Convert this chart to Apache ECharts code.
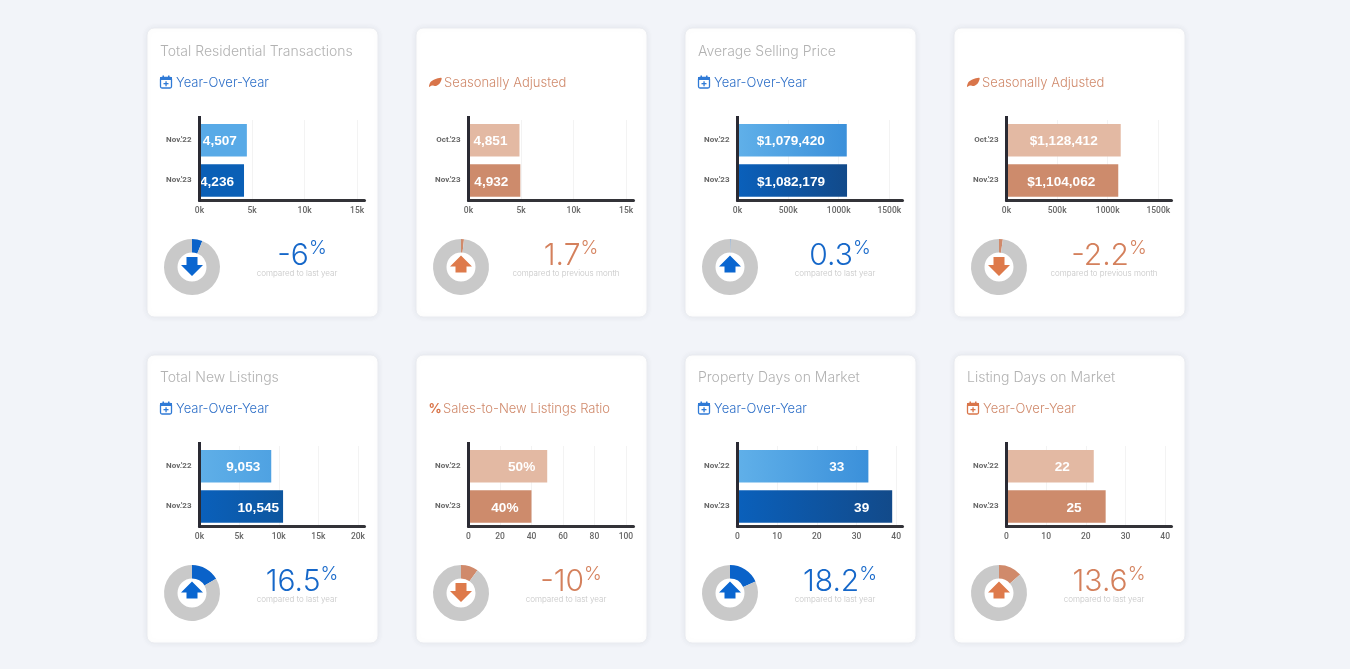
<!DOCTYPE html>
<html><head><meta charset="utf-8">
<style>html,body{margin:0;padding:0;background:#f2f4f9}#c{width:1350px;height:669px}</style>
<script src="https://cdn.jsdelivr.net/npm/echarts@6/dist/echarts.min.js"></script>
</head><body><div id="c"></div>
<script>
const titles=['Total Residential Transactions','','Average Selling Price','','Total New Listings','','Property Days on Market','Listing Days on Market'];
const subtitles=['Year-Over-Year','Seasonally Adjusted','Year-Over-Year','Seasonally Adjusted','Year-Over-Year','Sales-to-New Listings Ratio','Year-Over-Year','Year-Over-Year'];
const icons=['cal','leaf','cal','leaf','cal','pct','cal','cal'];
const tones=['blue','orange','blue','orange','blue','orange','blue','orange'];
const categories=[["Nov.'22","Nov.'23"],["Oct.'23","Nov.'23"],["Nov.'22","Nov.'23"],["Oct.'23","Nov.'23"],["Nov.'22","Nov.'23"],["Nov.'22","Nov.'23"],["Nov.'22","Nov.'23"],["Nov.'22","Nov.'23"]];
const earlier=[4507,4851,1079420,1128412,9053,50,33,22];
const later=[4236,4932,1082179,1104062,10545,40,39,25];
const axisMax=[15700,15700,1630000,1630000,20820,104.8,41.6,41.6];
const axisStep=[5000,5000,500000,500000,5000,20,10,10];
const axisUnit=['k','k','k','k','k','','',''];
const labelPrefix=['','','$','$','','','',''];
const labelSuffix=['','','','','','%','',''];
const insetEarlier=[10,12,22,23,11,12,24,24];
const insetLater=[10,12,22,23,4,13,23,24];
const changes=['-6','1.7','0.3','-2.2','16.5','-10','18.2','13.6'];
const shares=[6,1.7,0.3,2.2,16.5,10,18.2,13.6];
const arrows=['down','up','up','down','up','down','up','up'];
const notes=['compared to last year','compared to previous month','compared to last year','compared to previous month','compared to last year','compared to last year','compared to last year','compared to last year'];
const cardLefts=[147,416,685,954,147,416,685,954];

const UI='Inter, "Open Sans", sans-serif', LB='"Liberation Sans", Arial, sans-serif', TK='Roboto, sans-serif';
const palette={blue:{text:'#2f70c8',big:'#1567c9',icon:'#2f7ad6',slice:'#0a62c9',arrow:'#0a66d0'},
  orange:{text:'#d08a6c',big:'#d4805c',icon:'#d9754a',slice:'#d08a6b',arrow:'#de7a4b'}};
function fill(i,dark){
  if(tones[i]==='orange') return dark?'#cd8b6c':'#e3b9a3';
  if(i===2||i===6) return {type:'linear',x:0,y:0,x2:1,y2:0,colorStops:dark?[{offset:0,color:'#0a60bb'},{offset:1,color:'#124a8a'}]:[{offset:0,color:'#60b0e9'},{offset:1,color:'#3b90da'}]};
  if(i===4) return {type:'linear',x:0,y:0,x2:1,y2:0,colorStops:dark?[{offset:0,color:'#0a60bb'},{offset:1,color:'#0d569f'}]:[{offset:0,color:'#5fafe8'},{offset:1,color:'#4fa2e2'}]};
  return dark?'#0a5fb6':'#58aae7';
}
const grids=[],xAxes=[],yAxes=[],series=[],gfx=[];
cardLefts.forEach((L,i)=>{
  const T=i<4?28:354, c=palette[tones[i]];
  gfx.push({type:'rect',z:-10,shape:{x:L,y:i<4?T:T+1,width:231,height:i<4?289:288,r:7},style:{fill:'#fff',stroke:'#e9ebf0',lineWidth:1,shadowBlur:6,shadowColor:'rgba(40,50,80,0.07)'}});
  if(titles[i]) gfx.push({type:'text',z:5,x:L+13,y:T+24,style:{text:titles[i],font:'300 14px '+UI,fill:'#b2b2b2',verticalAlign:'middle'}});
  const subX=icons[i]==='pct'?27:(icons[i]==='leaf'?28:29);
  gfx.push({type:'text',z:5,x:L+subX,y:T+55.5,style:{text:subtitles[i],font:'300 13px '+UI,fill:c.text,verticalAlign:'middle'}});
  const ix=L+13, iy=T+48;
  if(icons[i]==='cal'){
    gfx.push({type:'rect',z:5,shape:{x:ix+.5,y:iy+1.5,width:11,height:10.5,r:1.5},style:{fill:'none',stroke:c.icon,lineWidth:1.3}});
    gfx.push({type:'rect',z:5,shape:{x:ix,y:iy+1,width:12,height:3},style:{fill:c.icon}});
    gfx.push({type:'rect',z:5,shape:{x:ix+2.5,y:iy-.5,width:1.5,height:2.5},style:{fill:c.icon}});
    gfx.push({type:'rect',z:5,shape:{x:ix+8,y:iy-.5,width:1.5,height:2.5},style:{fill:c.icon}});
    gfx.push({type:'rect',z:5,shape:{x:ix+3.5,y:iy+7,width:5,height:1.3},style:{fill:c.icon}});
    gfx.push({type:'rect',z:5,shape:{x:ix+5.4,y:iy+5.2,width:1.3,height:5},style:{fill:c.icon}});
  } else if(icons[i]==='leaf'){
    gfx.push({type:'polygon',z:5,shape:{smooth:0.3,points:[[ix,iy+11],[ix+1.5,iy+6],[ix+6,iy+3.2],[ix+12.5,iy+2],[ix+11,iy+7],[ix+7,iy+10],[ix+3,iy+9.5]]},style:{fill:c.icon}});
  } else {
    gfx.push({type:'text',z:5,x:ix-.5,y:iy+7.5,style:{text:'%',font:'bold 13px '+UI,fill:c.icon,verticalAlign:'middle'}});
  }
  gfx.push({type:'rect',z:5,shape:{x:L+51,y:T+88,width:3,height:5},style:{fill:'#2a2a33'}});

  grids.push({left:L+52.5,top:T+92,width:165,height:80.5,containLabel:false});
  xAxes.push({gridIndex:i,type:'value',min:0,max:axisMax[i],interval:axisStep[i],
    axisLine:{show:true,onZero:false,lineStyle:{color:'#333338',width:3}},axisTick:{show:false},
    splitLine:{show:true,showMaxLine:false,showMinLine:false,lineStyle:{color:'#f3f3f3',width:1}},
    axisLabel:{show:true,margin:6,showMaxLabel:false,showMinLabel:true,fontFamily:TK,fontWeight:500,fontSize:8.5,color:'#666',
      formatter:v=>axisUnit[i]?(v/1000)+axisUnit[i]:String(v)}});
  yAxes.push({gridIndex:i,type:'category',inverse:true,data:categories[i],z:5,
    axisLine:{show:true,onZero:false,lineStyle:{color:'#2a2a33',width:3}},axisTick:{show:false},splitLine:{show:false},
    axisLabel:{margin:8,fontFamily:TK,fontWeight:700,fontSize:8,color:'#666'}});
  const labelFor=(inset)=>({show:true,position:'insideRight',distance:inset,offset:[0,1.5],fontFamily:LB,fontWeight:700,fontSize:13.6,color:'#fff',
      formatter:p=>labelPrefix[i]+p.value.toLocaleString('en-US')+labelSuffix[i]});
  series.push({type:'bar',xAxisIndex:i,yAxisIndex:i,barWidth:32.5,z:1,
    data:[{value:earlier[i],itemStyle:{color:fill(i,false)},label:labelFor(insetEarlier[i])},
          {value:later[i],itemStyle:{color:fill(i,true)},label:labelFor(insetLater[i])}],
    silent:true,animation:false});
  const px=L+45, py=T+239;
  series.push({type:'pie',center:[px,py],radius:[14.5,28],startAngle:90,clockwise:true,silent:true,animation:false,
    label:{show:false},labelLine:{show:false},
    data:[{value:shares[i],itemStyle:{color:c.slice}},{value:100-shares[i],itemStyle:{color:'#c9c9c9'}}]});
  const pts=arrows[i]==='up'
    ?[[-5.5,5.5],[5.5,5.5],[5.5,-.5],[11,-.5],[0,-11.5],[-11,-.5],[-5.5,-.5]]
    :[[-5.5,-10],[5.5,-10],[5.5,-2],[11,-2],[0,9],[-11,-2],[-5.5,-2]];
  gfx.push({type:'polygon',z:20,shape:{points:pts.map(p=>[px+p[0],py+p[1]])},style:{fill:c.arrow}});
  gfx.push({type:'text',z:5,x:L+155,y:T+211,style:{text:'{a|'+changes[i]+'}{b|%}',align:'center',verticalAlign:'top',
    rich:{a:{font:'300 30px '+UI,fill:c.big,lineHeight:34},b:{font:'300 19px '+UI,fill:c.big,verticalAlign:'top',lineHeight:24}}}});
  gfx.push({type:'text',z:5,x:L+150,y:T+246,style:{text:notes[i],font:'300 8px '+UI,fill:'#c4c4c4',align:'center',verticalAlign:'middle'}});
});
const chart=echarts.init(document.getElementById('c'),null,{renderer:'canvas'});
chart.setOption({animation:false,backgroundColor:'#f2f4f9',grid:grids,xAxis:xAxes,yAxis:yAxes,series:series,graphic:{elements:gfx},tooltip:{show:false}});
</script></body></html>
